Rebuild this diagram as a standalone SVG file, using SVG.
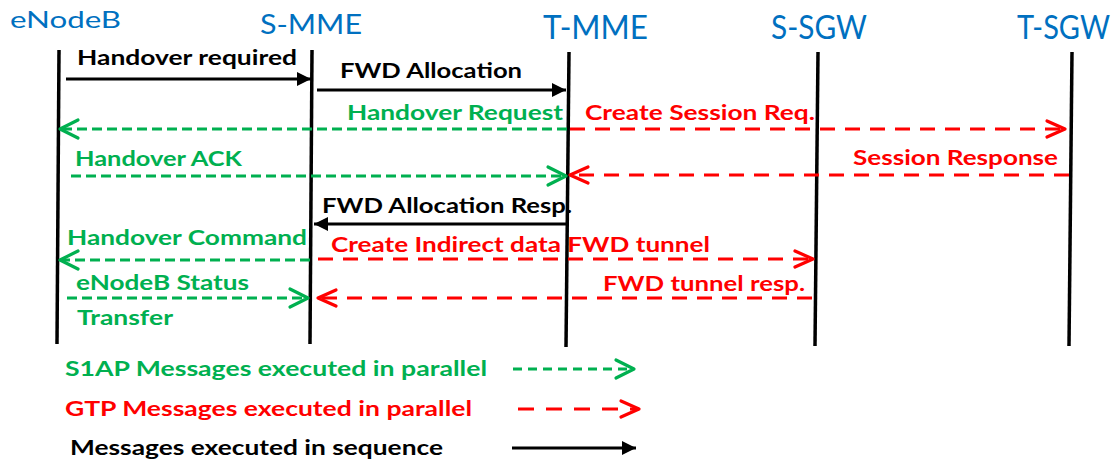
<svg xmlns="http://www.w3.org/2000/svg" width="1120" height="463" viewBox="0 0 1120 463">
  <style>
    .title { font-family: Lato, "Open Sans", "Liberation Sans", sans-serif; fill: #0070C0; font-weight: 400; }
    .lbl { font-family: Lato, "Open Sans", "Liberation Sans", sans-serif; font-weight: 700; font-size: 21px; }
    .life { stroke: #000; stroke-width: 3.5; fill: none; }
    .k { fill: #000; }
    .g { fill: #00B050; }
    .r { fill: #FF0000; }
    .seq { stroke: #000; stroke-width: 3; fill: none; }
    .s1ap { stroke: #00B050; stroke-width: 3; fill: none; stroke-dasharray: 10 5; }
    .gtp { stroke: #FF0000; stroke-width: 3; fill: none; stroke-dasharray: 15 10; }
  </style>
  <defs>
    <marker id="headK" markerUnits="userSpaceOnUse" markerWidth="30" markerHeight="30" refX="0" refY="0" orient="auto" overflow="visible">
      <path d="M-14,-7 L0,0 L-14,7 Z" fill="#000"/>
    </marker>
    <marker id="headG" markerUnits="userSpaceOnUse" markerWidth="30" markerHeight="30" refX="0" refY="0" orient="auto" overflow="visible">
      <path d="M-18,-9 L0,0 L-18,9" fill="none" stroke="#00B050" stroke-width="3.2" stroke-linecap="round" stroke-linejoin="round"/>
    </marker>
    <marker id="headR" markerUnits="userSpaceOnUse" markerWidth="30" markerHeight="30" refX="0" refY="0" orient="auto" overflow="visible">
      <path d="M-18,-8 L0,0 L-18,8" fill="none" stroke="#FF0000" stroke-width="3.2" stroke-linecap="round" stroke-linejoin="round"/>
    </marker>
  </defs>

  <rect width="1120" height="463" fill="#fff"/>

  <!-- lifelines -->
  <g id="enodeb">
    <text class="title" x="10" y="28" font-size="24" textLength="111" lengthAdjust="spacingAndGlyphs">eNodeB</text>
    <line class="life" x1="59" y1="50" x2="57" y2="344"/>
  </g>
  <g id="s-mme">
    <text class="title" x="260" y="34" font-size="27" textLength="102" lengthAdjust="spacingAndGlyphs">S-MME</text>
    <line class="life" x1="312" y1="50" x2="310" y2="344"/>
  </g>
  <g id="t-mme">
    <text class="title" x="543" y="39" font-size="33" textLength="105" lengthAdjust="spacingAndGlyphs">T-MME</text>
    <line class="life" x1="569" y1="52" x2="566" y2="347"/>
  </g>
  <g id="s-sgw">
    <text class="title" x="771" y="39" font-size="33" textLength="96" lengthAdjust="spacingAndGlyphs">S-SGW</text>
    <line class="life" x1="818" y1="52" x2="815" y2="346"/>
  </g>
  <g id="t-sgw">
    <text class="title" x="1017" y="39" font-size="33" textLength="93" lengthAdjust="spacingAndGlyphs">T-SGW</text>
    <line class="life" x1="1072" y1="52" x2="1069" y2="346"/>
  </g>

  <!-- messages -->
  <g id="connectors">
    <line class="seq" x1="66" y1="79" x2="311" y2="79" marker-end="url(#headK)"/>
    <line class="seq" x1="317" y1="90" x2="566" y2="90" marker-end="url(#headK)"/>
    <line class="s1ap" x1="567" y1="129" x2="60" y2="129" marker-end="url(#headG)"/>
    <line class="gtp" x1="570" y1="129" x2="1065" y2="129" marker-end="url(#headR)"/>
    <line class="s1ap" x1="71" y1="176" x2="566" y2="176" marker-end="url(#headG)"/>
    <line class="gtp" x1="1069" y1="175" x2="570" y2="175" marker-end="url(#headR)"/>
    <line class="seq" x1="566" y1="224" x2="314" y2="224" marker-end="url(#headK)"/>
    <line class="s1ap" x1="310" y1="260" x2="60" y2="260" marker-end="url(#headG)"/>
    <line class="gtp" x1="318" y1="259" x2="813" y2="259" marker-end="url(#headR)"/>
    <line class="s1ap" x1="67" y1="298" x2="308" y2="298" marker-end="url(#headG)"/>
    <line class="gtp" x1="812" y1="298" x2="318" y2="298" marker-end="url(#headR)"/>
  </g>

  <g id="message-labels">
    <text class="lbl k" x="77" y="65" textLength="220" lengthAdjust="spacingAndGlyphs">Handover required</text>
    <text class="lbl k" x="340" y="78" textLength="182" lengthAdjust="spacingAndGlyphs">FWD Allocation</text>
    <text class="lbl g" x="347" y="120" textLength="216" lengthAdjust="spacingAndGlyphs">Handover Request</text>
    <text class="lbl r" x="585" y="120" textLength="230" lengthAdjust="spacingAndGlyphs">Create Session Req.</text>
    <text class="lbl g" x="75" y="166" textLength="167" lengthAdjust="spacingAndGlyphs">Handover ACK</text>
    <text class="lbl r" x="853" y="165" textLength="205" lengthAdjust="spacingAndGlyphs">Session Response</text>
    <text class="lbl k" x="322" y="213" textLength="250" lengthAdjust="spacingAndGlyphs">FWD Allocation Resp.</text>
    <text class="lbl g" x="67" y="245" textLength="240" lengthAdjust="spacingAndGlyphs">Handover Command</text>
    <text class="lbl r" x="331" y="252" textLength="379" lengthAdjust="spacingAndGlyphs">Create Indirect data FWD tunnel</text>
    <text class="lbl g" x="76" y="290" textLength="173" lengthAdjust="spacingAndGlyphs">eNodeB Status</text>
    <text class="lbl g" x="77" y="325" textLength="96" lengthAdjust="spacingAndGlyphs">Transfer</text>
    <text class="lbl r" x="603" y="291" textLength="202" lengthAdjust="spacingAndGlyphs">FWD tunnel resp.</text>
  </g>

  <!-- legend -->
  <g id="legend">
    <text class="lbl g" x="65" y="376" textLength="422" lengthAdjust="spacingAndGlyphs">S1AP Messages executed in parallel</text>
    <line x1="513" y1="369" x2="634" y2="369" stroke="#00B050" stroke-width="3" stroke-dasharray="9 6" marker-end="url(#headG)"/>
    <text class="lbl r" x="65" y="416" textLength="407" lengthAdjust="spacingAndGlyphs">GTP Messages executed in parallel</text>
    <line x1="518" y1="409" x2="639" y2="409" stroke="#FF0000" stroke-width="3" stroke-dasharray="16 12" marker-end="url(#headR)"/>
    <text class="lbl k" x="70" y="455" textLength="373" lengthAdjust="spacingAndGlyphs">Messages executed in sequence</text>
    <line class="seq" x1="512" y1="448" x2="636" y2="448" marker-end="url(#headK)"/>
  </g>
</svg>
